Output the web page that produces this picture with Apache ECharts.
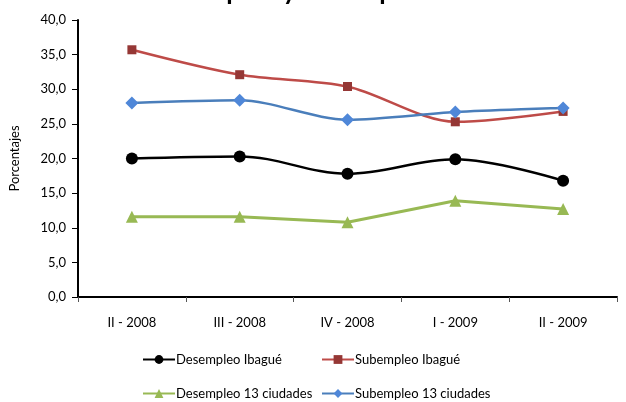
<!DOCTYPE html>
<html><head><meta charset="utf-8">
<script src="https://cdn.jsdelivr.net/npm/echarts@6/dist/echarts.min.js"></script>
<style>html,body{margin:0;padding:0;background:#fff}#c{width:626px;height:402px}</style>
</head><body><div id="c"></div>
<script>
var categories = ['II - 2008', 'III - 2008', 'IV - 2008', 'I - 2009', 'II - 2009'];
var desempleoIbague = [20.0, 20.3, 17.8, 19.9, 16.8];
var subempleoIbague = [35.7, 32.1, 30.4, 25.3, 26.8];
var desempleo13 = [11.6, 11.6, 10.8, 13.9, 12.7];
var subempleo13 = [28.0, 28.4, 25.6, 26.7, 27.3];
var titleText = 'Tasas de desempleo y subempleo 2008 - 2009';
var yAxisName = 'Porcentajes';

var font = 'Lato, "Open Sans", sans-serif';
var chart = echarts.init(document.getElementById('c'), null, {renderer: 'canvas'});
function ser(name, data, color, lineColor, symbol, size, smooth, width) {
  return {
    name: name, type: 'line', data: data, smooth: smooth,
    symbol: symbol, symbolSize: size,
    itemStyle: {color: color},
    lineStyle: {color: lineColor, width: width},
    emphasis: {disabled: true}, z: 3
  };
}
function leg(name, left, top) {
  return {data: [name], left: left, top: top, itemWidth: 32, itemHeight: 11, padding: 0,
    textStyle: {fontFamily: font, fontSize: 13, color: '#000', padding: [0, 0, 0, -4]}};
}
chart.setOption({
  animation: false,
  title: {text: titleText, left: 'center', top: -21, padding: 0,
    textStyle: {fontFamily: font, fontSize: 26, fontWeight: 'bold', color: '#000'}},
  grid: {left: 75, right: 9, top: 20, bottom: 105, containLabel: false},
  xAxis: {
    type: 'category', data: categories, boundaryGap: true,
    axisLine: {lineStyle: {color: '#000', width: 2}},
    axisTick: {show: true, length: 5, lineStyle: {color: '#555', width: 1}},
    axisLabel: {fontFamily: font, fontSize: 13, color: '#000', margin: 19}
  },
  yAxis: {
    type: 'value', min: 0, max: 40, interval: 5,
    name: yAxisName, nameLocation: 'middle', nameGap: 57, nameRotate: 90,
    nameTextStyle: {fontFamily: font, fontSize: 13, color: '#000'},
    axisLine: {show: true, lineStyle: {color: '#000', width: 2}},
    axisTick: {show: true, length: 6, lineStyle: {color: '#000', width: 1}},
    splitLine: {show: false},
    axisLabel: {fontFamily: font, fontSize: 13, color: '#000', margin: 12,
      formatter: function (v) { return v.toFixed(1).replace('.', ','); }}
  },
  legend: [
    leg('Desempleo Ibagué', 142, 353),
    leg('Subempleo Ibagué', 321, 353),
    leg('Desempleo 13 ciudades', 142, 387),
    leg('Subempleo 13 ciudades', 321, 387)
  ],
  series: [
    ser('Desempleo Ibagué', desempleoIbague, '#000000', '#000000', 'circle', 12, 0.35, 2.5),
    ser('Subempleo Ibagué', subempleoIbague, '#953735', '#BE4B48', 'rect', 9, 0.3, 2.5),
    ser('Desempleo 13 ciudades', desempleo13, '#98B954', '#98B954', 'triangle', 12, false, 3),
    ser('Subempleo 13 ciudades', subempleo13, '#4F87D8', '#4A7EBB', 'diamond', 13, 0.3, 2.5)
  ]
});
</script></body></html>
